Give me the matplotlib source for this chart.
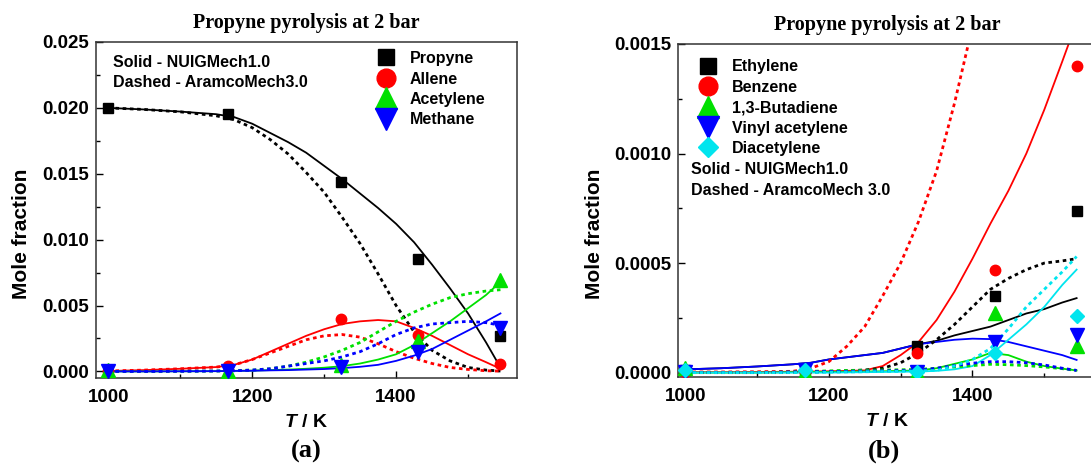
import matplotlib
matplotlib.use("Agg")
import matplotlib.pyplot as plt
from matplotlib.lines import Line2D
from matplotlib.ticker import MultipleLocator, FormatStrFormatter

# ---------------- data: experiments (both panels) ----------------
T_exp = [1000, 1167, 1323, 1431, 1545]
propyne_exp = [0.0200, 0.0195, 0.0144, 0.0085, 0.0027]
allene_exp = [0.00002, 0.0004, 0.0040, 0.0028, 0.0006]
acetylene_exp = [0.0001, 0.00002, 0.0005, 0.0023, 0.0069]
methane_exp = [0.0, 0.0, 0.0003, 0.0015, 0.0033]

ethylene_exp = [0.00001, 0.00001, 0.00012, 0.00035, 0.00074]
benzene_exp = [0.000003, 0.000005, 0.000088, 0.00047, 0.00140]
butadiene_exp = [0.00002, 0.000005, 0.000005, 0.00027, 0.00012]
vinylacet_exp = [0.000005, 0.00001, 0.000003, 0.00014, 0.00017]
diacet_exp = [0.00001, 0.00001, 0.000005, 0.00009, 0.00026]

# ---------------- data: model curves ----------------
T_mod = [1000, 1050, 1100, 1150, 1175, 1200, 1225, 1250, 1275, 1300, 1325, 1350,
         1375, 1400, 1425, 1450, 1475, 1500, 1525, 1545]

# panel (a)
propyne_nuig = [0.0200, 0.01988, 0.01972, 0.01952, 0.0193, 0.0188, 0.0181, 0.0174,
                0.0166, 0.0156, 0.0146, 0.0135, 0.0124, 0.0112, 0.0098, 0.0081,
                0.0063, 0.0044, 0.0022, 0.0003]
propyne_aramco = [0.0200, 0.01988, 0.01970, 0.0194, 0.0191, 0.0185, 0.0176, 0.0165,
                  0.0151, 0.0136, 0.0117, 0.0097, 0.0074, 0.0050, 0.0030, 0.0016,
                  0.0008, 0.0003, 0.0001, 0.00003]
allene_nuig = [0.00003, 0.0001, 0.0002, 0.00033, 0.0005, 0.0009, 0.0015, 0.0021,
               0.0027, 0.0032, 0.0036, 0.0038, 0.0039, 0.0038, 0.0033, 0.0027,
               0.0020, 0.0013, 0.0007, 0.0002]
allene_aramco = [0.00003, 0.0001, 0.0002, 0.00033, 0.0005, 0.0009, 0.0014, 0.0019,
                 0.0024, 0.0027, 0.0028, 0.0026, 0.0021, 0.0015, 0.0010, 0.0006,
                 0.0003, 0.00015, 0.00005, 0.00002]
acetylene_nuig = [0.0, 0.0, 0.00001, 0.00002, 0.00004, 0.00006, 0.0001, 0.00014,
                  0.0002, 0.00028, 0.0004, 0.0006, 0.0009, 0.0013, 0.0020, 0.0029,
                  0.0038, 0.0048, 0.0058, 0.0068]
acetylene_aramco = [0.0, 0.0, 0.00001, 0.00003, 0.00006, 0.0001, 0.0002, 0.0004,
                    0.0007, 0.0011, 0.0016, 0.0022, 0.0030, 0.0038, 0.0045, 0.0051,
                    0.0056, 0.0059, 0.0061, 0.0062]
methane_nuig = [0.0, 0.0, 0.00001, 0.00002, 0.00004, 0.00005, 0.00008, 0.0001,
                0.00014, 0.00018, 0.00025, 0.00035, 0.0005, 0.0008, 0.0012, 0.0017,
                0.0024, 0.0031, 0.0038, 0.0044]
methane_aramco = [0.0, 0.0, 0.00001, 0.00003, 0.00005, 0.0001, 0.0002, 0.0004,
                  0.0006, 0.0008, 0.0011, 0.0015, 0.0021, 0.0028, 0.0033, 0.0036,
                  0.0037, 0.0038, 0.0037, 0.0035]

# panel (b)
ethylene_nuig = [0.000015, 0.00002, 0.000028, 0.000038, 0.000045, 0.00006, 0.00007,
                 0.00008, 0.00009, 0.00011, 0.00013, 0.000145, 0.00017, 0.00019,
                 0.00021, 0.00024, 0.00027, 0.00029, 0.00032, 0.00034]
ethylene_aramco = [0.0, 0.0, 0.0, 0.000002, 0.000003, 0.000005, 0.000008, 0.000012,
                   0.00002, 0.000045, 0.00009, 0.00015, 0.00022, 0.0003, 0.00038,
                   0.00043, 0.00047, 0.0005, 0.00051, 0.00052]
benzene_nuig = [0.000002, 0.000002, 0.000003, 0.000004, 0.000005, 0.000006, 0.000008,
                0.00001, 0.00003, 0.00008, 0.00014, 0.00024, 0.00037, 0.00052,
                0.00068, 0.00083, 0.001, 0.0012, 0.00142, 0.0016]
benzene_aramco = [0.000003, 0.000003, 0.000004, 0.000006, 0.00002, 0.00005, 0.00012,
                  0.00021, 0.00035, 0.0005, 0.00069, 0.00092, 0.00123, 0.00158,
                  None, None, None, None, None, None]
butadiene_nuig = [0.0, 0.0, 0.0, 0.000002, 0.000003, 0.000003, 0.000004, 0.000005,
                  0.000006, 0.000008, 0.00001, 0.00002, 0.00004, 0.00006, 0.00009,
                  0.00008, 0.00005, 0.00003, 0.000018, 0.00001]
butadiene_aramco = [0.0, 0.0, 0.0, 0.000003, 0.000006, 0.000008, 0.00001, 0.000011,
                    0.000012, 0.000013, 0.000015, 0.00002, 0.000026, 0.000032,
                    0.000038, 0.000036, 0.000032, 0.000026, 0.000018, 0.00001]
vinylacet_nuig = [0.000015, 0.00002, 0.000028, 0.000038, 0.000045, 0.00006, 0.00007,
                  0.00008, 0.00009, 0.00011, 0.00013, 0.00014, 0.00015, 0.000155,
                  0.000153, 0.00014, 0.00012, 0.0001, 0.00008, 0.000058]
vinylacet_aramco = [0.0, 0.0, 0.0, 0.000003, 0.000004, 0.000005, 0.000006, 0.000007,
                    0.000008, 0.000009, 0.00001, 0.00002, 0.000032, 0.000043,
                    0.00005, 0.00005, 0.000045, 0.000035, 0.00002, 0.00001]
diacet_nuig = [0.0, 0.0, 0.0, 0.0, 0.0, 0.0, 0.000001, 0.000002, 0.000003, 0.000004,
               0.000005, 0.000008, 0.000015, 0.00003, 0.00008, 0.00015, 0.00022,
               0.0003, 0.0004, 0.00047]
diacet_aramco = [0.0, 0.0, 0.0, 0.0, 0.000001, 0.000002, 0.000003, 0.000004, 0.000005,
                 0.000006, 0.000008, 0.00001, 0.00003, 0.00006, 0.00011, 0.0002,
                 0.0003, 0.00038, 0.00046, 0.00053]

labels_a = ["Propyne", "Allene", "Acetylene", "Methane"]
labels_b = ["Ethylene", "Benzene", "1,3-Butadiene", "Vinyl acetylene", "Diacetylene"]

title_text = "Propyne pyrolysis at 2 bar"

# ---------------- styling ----------------
SANS = "Liberation Sans"
SERIF = "Liberation Serif"
plt.rcParams["font.family"] = SANS
plt.rcParams["font.weight"] = "bold"
plt.rcParams["mathtext.fontset"] = "custom"
plt.rcParams["mathtext.it"] = "Liberation Sans:italic:bold"
plt.rcParams["mathtext.rm"] = "Liberation Sans:bold"
plt.rcParams["mathtext.bf"] = "Liberation Sans:bold"

BLACK, RED, GREEN, BLUE, CYAN = "#000000", "#ff0000", "#00e000", "#0000ff", "#00e5ee"
DOT = (0, (1.3, 1.3))
LW_S = 1.3
LW_D = 2.0

fig = plt.figure(figsize=(10.91, 4.66), dpi=100)
ax1 = fig.add_axes([96 / 1091, 1 - 378 / 466, 421 / 1091, 336 / 466])
ax2 = fig.add_axes([678 / 1091, 1 - 377 / 466, 418 / 1091, 333 / 466])


def style_axes(ax, ylab_x):
    for side in ("top", "right", "left", "bottom"):
        ax.spines[side].set_linewidth(1.1)
        ax.spines[side].set_color("#333333")
    ax.tick_params(which="both", direction="in", top=False, right=False,
                   labelsize=13.5, width=1.0)
    ax.tick_params(axis="y", which="both", pad=5)
    ax.tick_params(axis="x", which="both", pad=8)
    ax.tick_params(which="major", length=5)
    ax.tick_params(which="minor", length=3)
    for lab in ax.get_xticklabels() + ax.get_yticklabels():
        lab.set_fontweight("bold")
    ax.xaxis.set_major_locator(MultipleLocator(200))
    ax.xaxis.set_minor_locator(MultipleLocator(100))
    ax.set_ylabel("Mole fraction", fontsize=15, fontweight="bold")
    ax.yaxis.set_label_coords(ylab_x, 0.43)
    ax.set_xlabel(r"$\it{T}$ / K", fontsize=14, fontweight="bold", labelpad=6)
    ax.set_title(title_text, family=SERIF, fontsize=14.5, fontweight="bold", pad=10)


ms = dict(linestyle="none", zorder=3)

# ---------------- panel (a) ----------------
ax1.plot(T_mod, propyne_nuig, color=BLACK, lw=LW_S)
ax1.plot(T_mod, propyne_aramco, color=BLACK, lw=LW_D, ls=DOT)
ax1.plot(T_mod, allene_nuig, color=RED, lw=LW_S)
ax1.plot(T_mod, allene_aramco, color=RED, lw=LW_D, ls=DOT)
ax1.plot(T_mod, acetylene_nuig, color=GREEN, lw=LW_S)
ax1.plot(T_mod, acetylene_aramco, color=GREEN, lw=LW_D, ls=DOT)
ax1.plot(T_mod, methane_nuig, color=BLUE, lw=LW_S)
ax1.plot(T_mod, methane_aramco, color=BLUE, lw=LW_D, ls=DOT)

ax1.plot(T_exp, propyne_exp, marker="s", ms=7, color=BLACK, **ms)
ax1.plot(T_exp, allene_exp, marker="o", ms=7.5, color=RED, **ms)
ax1.plot(T_exp, acetylene_exp, marker="^", ms=10, color=GREEN, **ms)
ax1.plot(T_exp, methane_exp, marker="v", ms=10, color=BLUE, **ms)

ax1.set_xlim(983, 1568)
ax1.set_ylim(-0.0005, 0.025)
ax1.yaxis.set_major_locator(MultipleLocator(0.005))
ax1.yaxis.set_minor_locator(MultipleLocator(0.0025))
ax1.yaxis.set_major_formatter(FormatStrFormatter("%.3f"))
style_axes(ax1, -0.154)

h_a = [Line2D([], [], ls="none", marker="s", ms=11.5, color=BLACK),
       Line2D([], [], ls="none", marker="o", ms=13.5, color=RED),
       Line2D([], [], ls="none", marker="^", ms=16, color=GREEN),
       Line2D([], [], ls="none", marker="v", ms=16, color=BLUE)]
ax1.legend(h_a, labels_a, loc="upper left", bbox_to_anchor=(0.67, 0.973),
           frameon=False, prop={"family": SANS, "weight": "bold", "size": 11.5},
           handlelength=1.0, handletextpad=1.0, labelspacing=0.34,
           borderpad=0, borderaxespad=0)

ax1.text(0.040, 0.940, "Solid - NUIGMech1.0", transform=ax1.transAxes,
         fontsize=11.5, fontweight="bold", va="center", ha="left")
ax1.text(0.040, 0.880, "Dashed - AramcoMech3.0", transform=ax1.transAxes,
         fontsize=11.5, fontweight="bold", va="center", ha="left")

# ---------------- panel (b) ----------------
def clean(xs, ys):
    pts = [(x, y) for x, y in zip(xs, ys) if y is not None]
    return [p[0] for p in pts], [p[1] for p in pts]


for yv, col in ((ethylene_nuig, BLACK), (benzene_nuig, RED), (butadiene_nuig, GREEN),
                (vinylacet_nuig, BLUE), (diacet_nuig, CYAN)):
    ax2.plot(*clean(T_mod, yv), color=col, lw=LW_S)
for yv, col in ((ethylene_aramco, BLACK), (benzene_aramco, RED), (butadiene_aramco, GREEN),
                (vinylacet_aramco, BLUE), (diacet_aramco, CYAN)):
    ax2.plot(*clean(T_mod, yv), color=col, lw=LW_D, ls=DOT)

ax2.plot(T_exp, ethylene_exp, marker="s", ms=7, color=BLACK, **ms)
ax2.plot(T_exp, benzene_exp, marker="o", ms=7.5, color=RED, **ms)
ax2.plot(T_exp, butadiene_exp, marker="^", ms=10, color=GREEN, **ms)
ax2.plot(T_exp, vinylacet_exp, marker="v", ms=10, color=BLUE, **ms)
ax2.plot(T_exp, diacet_exp, marker="D", ms=7, color=CYAN, **ms)

ax2.set_xlim(990, 1572)
ax2.set_ylim(-0.00002, 0.0015)
ax2.yaxis.set_major_locator(MultipleLocator(0.0005))
ax2.yaxis.set_minor_locator(MultipleLocator(0.00025))
ax2.yaxis.set_major_formatter(FormatStrFormatter("%.4f"))
style_axes(ax2, -0.177)

h_b = [Line2D([], [], ls="none", marker="s", ms=11.5, color=BLACK),
       Line2D([], [], ls="none", marker="o", ms=13.5, color=RED),
       Line2D([], [], ls="none", marker="^", ms=16, color=GREEN),
       Line2D([], [], ls="none", marker="v", ms=16, color=BLUE),
       Line2D([], [], ls="none", marker="D", ms=10, color=CYAN)]
ax2.legend(h_b, labels_b, loc="upper left", bbox_to_anchor=(0.053, 0.954),
           frameon=False, prop={"family": SANS, "weight": "bold", "size": 11.5},
           handlelength=1.0, handletextpad=1.0, labelspacing=0.34,
           borderpad=0, borderaxespad=0)

ax2.text(0.031, 0.622, "Solid - NUIGMech1.0", transform=ax2.transAxes,
         fontsize=11.5, fontweight="bold", va="center", ha="left")
ax2.text(0.031, 0.559, "Dashed - AramcoMech 3.0", transform=ax2.transAxes,
         fontsize=11.5, fontweight="bold", va="center", ha="left")

# panel labels
fig.text(306 / 1091, 1 - 451 / 466, "(a)", family=SERIF, fontsize=19,
         fontweight="bold", ha="center", va="center")
fig.text(884 / 1091, 1 - 451 / 466, "(b)", family=SERIF, fontsize=19,
         fontweight="bold", ha="center", va="center")

fig.savefig("out.png", dpi=100)
